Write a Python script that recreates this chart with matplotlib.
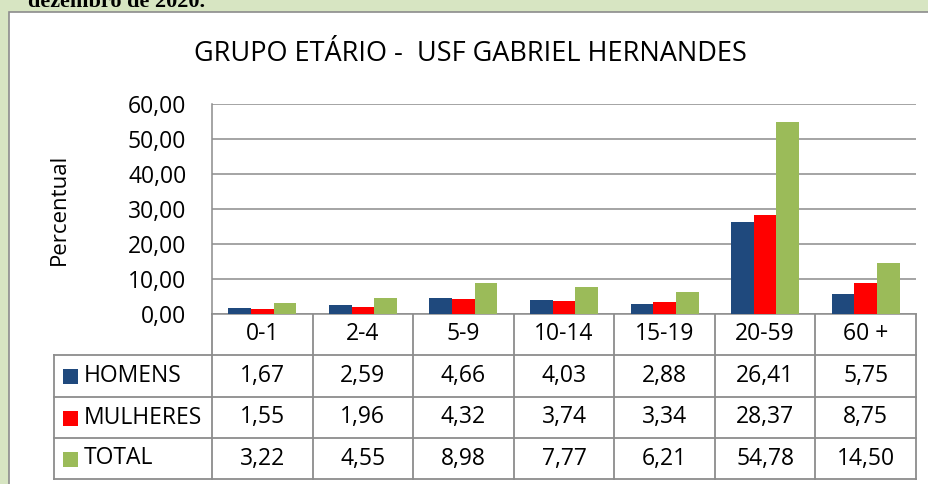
import matplotlib
matplotlib.use("Agg")
import matplotlib.pyplot as plt
from matplotlib.patches import Rectangle
from matplotlib.lines import Line2D
import matplotlib.transforms as mtransforms

categories = ["0-1", "2-4", "5-9", "10-14", "15-19", "20-59", "60 +"]
series_names = ["HOMENS", "MULHERES", "TOTAL"]
homens = [1.67, 2.59, 4.66, 4.03, 2.88, 26.41, 5.75]
mulheres = [1.55, 1.96, 4.32, 3.74, 3.34, 28.37, 8.75]
total = [3.22, 4.55, 8.98, 7.77, 6.21, 54.78, 14.50]
yticks = [0, 10, 20, 30, 40, 50, 60]
title = "GRUPO ETÁRIO -  USF GABRIEL HERNANDES"
ylabel = "Percentual"
header_text = "dezembro de 2020."

colors = ["#1F497D", "#FF0000", "#9BBB59"]
W, H = 929, 484
FONT = ["Open Sans", "DejaVu Sans"]

fig = plt.figure(figsize=(W / 100, H / 100), dpi=100)
fig.patch.set_facecolor("#d7e5c2")

def fx(px):
    return px / W

def fy(py):
    return 1 - py / H

# header text (cut off at top)
fig.text(fx(205), fy(7), header_text, ha="right", va="baseline",
         family=["Liberation Serif"], fontweight="bold", fontsize=16, color="black")

# white chart box (extends past right and bottom edges)
fig.patches.append(Rectangle((fx(9), fy(495)), fx(945) - fx(9), fy(12) - fy(495),
                             transform=fig.transFigure, facecolor="white",
                             edgecolor="#8c8c8c", linewidth=1.2, zorder=-5))

ax_left, ax_top, ax_right, ax_bottom = 212, 104, 916, 314
ax = fig.add_axes([fx(ax_left), fy(ax_bottom), fx(ax_right) - fx(ax_left), fy(ax_top) - fy(ax_bottom)])
ax.set_facecolor("white")
ax.set_zorder(2)

n = len(categories)
x = list(range(n))
w = 0.225
for k, (vals, c) in enumerate(zip([homens, mulheres, total], colors)):
    ax.bar([i + (k - 1) * w for i in x], vals, width=w, color=c, zorder=3, linewidth=0)

ax.set_xlim(-0.5, n - 0.5)
ax.set_ylim(0, 60)
ax.set_yticks(yticks)
ax.set_yticklabels([f"{v:.2f}".replace(".", ",") for v in yticks], family=FONT, fontsize=16.5)
ax.tick_params(axis="y", length=0, pad=18.5)
ax.set_xticks([])
for y in yticks:
    ax.axhline(y, color="#8c8c8c", linewidth=1.1, zorder=1)
for s in ["top", "right"]:
    ax.spines[s].set_visible(False)
ax.spines["left"].set_color("#8c8c8c")
ax.spines["left"].set_linewidth(1.1)
ax.spines["bottom"].set_color("#8c8c8c")
ax.spines["bottom"].set_linewidth(1.1)

fig.text(fx(59), fy(209), ylabel, rotation=90, ha="center", va="center",
         family=FONT, fontsize=16)
fig.text(fx(470), fy(54), title, ha="center", va="center", family=FONT, fontsize=19.5)

# data table below axes
tr = mtransforms.blended_transform_factory(ax.transData, fig.transFigure)
line_kw = dict(color="#8c8c8c", linewidth=1.3)
row_edges = [314, 355, 397, 438, 479]
for k in range(n + 1):
    xb = k - 0.5
    fig.add_artist(Line2D([xb, xb], [fy(row_edges[0]), fy(row_edges[-1])], transform=tr, **line_kw))
fig.add_artist(Line2D([fx(54), fx(54)], [fy(row_edges[1]), fy(row_edges[-1])],
                      transform=fig.transFigure, **line_kw))
for yb in row_edges[1:]:
    fig.add_artist(Line2D([fx(54), fx(ax_right)], [fy(yb), fy(yb)],
                          transform=fig.transFigure, **line_kw))

TS = 16.5
centers = [(row_edges[r] + row_edges[r + 1]) / 2 for r in range(4)]
for i, cat in enumerate(categories):
    fig.text(i, fy(centers[0]), cat, transform=tr, ha="center", va="center",
             family=FONT, fontsize=TS)
for r, (name, vals, c) in enumerate(zip(series_names, [homens, mulheres, total], colors)):
    yc = centers[r + 1]
    fig.patches.append(Rectangle((fx(63), fy(yc + 8)), fx(15), fy(0) - fy(15),
                                 transform=fig.transFigure, facecolor=c, edgecolor="none"))
    fig.text(fx(84), fy(yc), name, ha="left", va="center", family=FONT, fontsize=TS)
    for i, v in enumerate(vals):
        fig.text(i, fy(yc), f"{v:.2f}".replace(".", ","), transform=tr,
                 ha="center", va="center", family=FONT, fontsize=TS)

fig.savefig("out.png", dpi=100, facecolor=fig.get_facecolor())
